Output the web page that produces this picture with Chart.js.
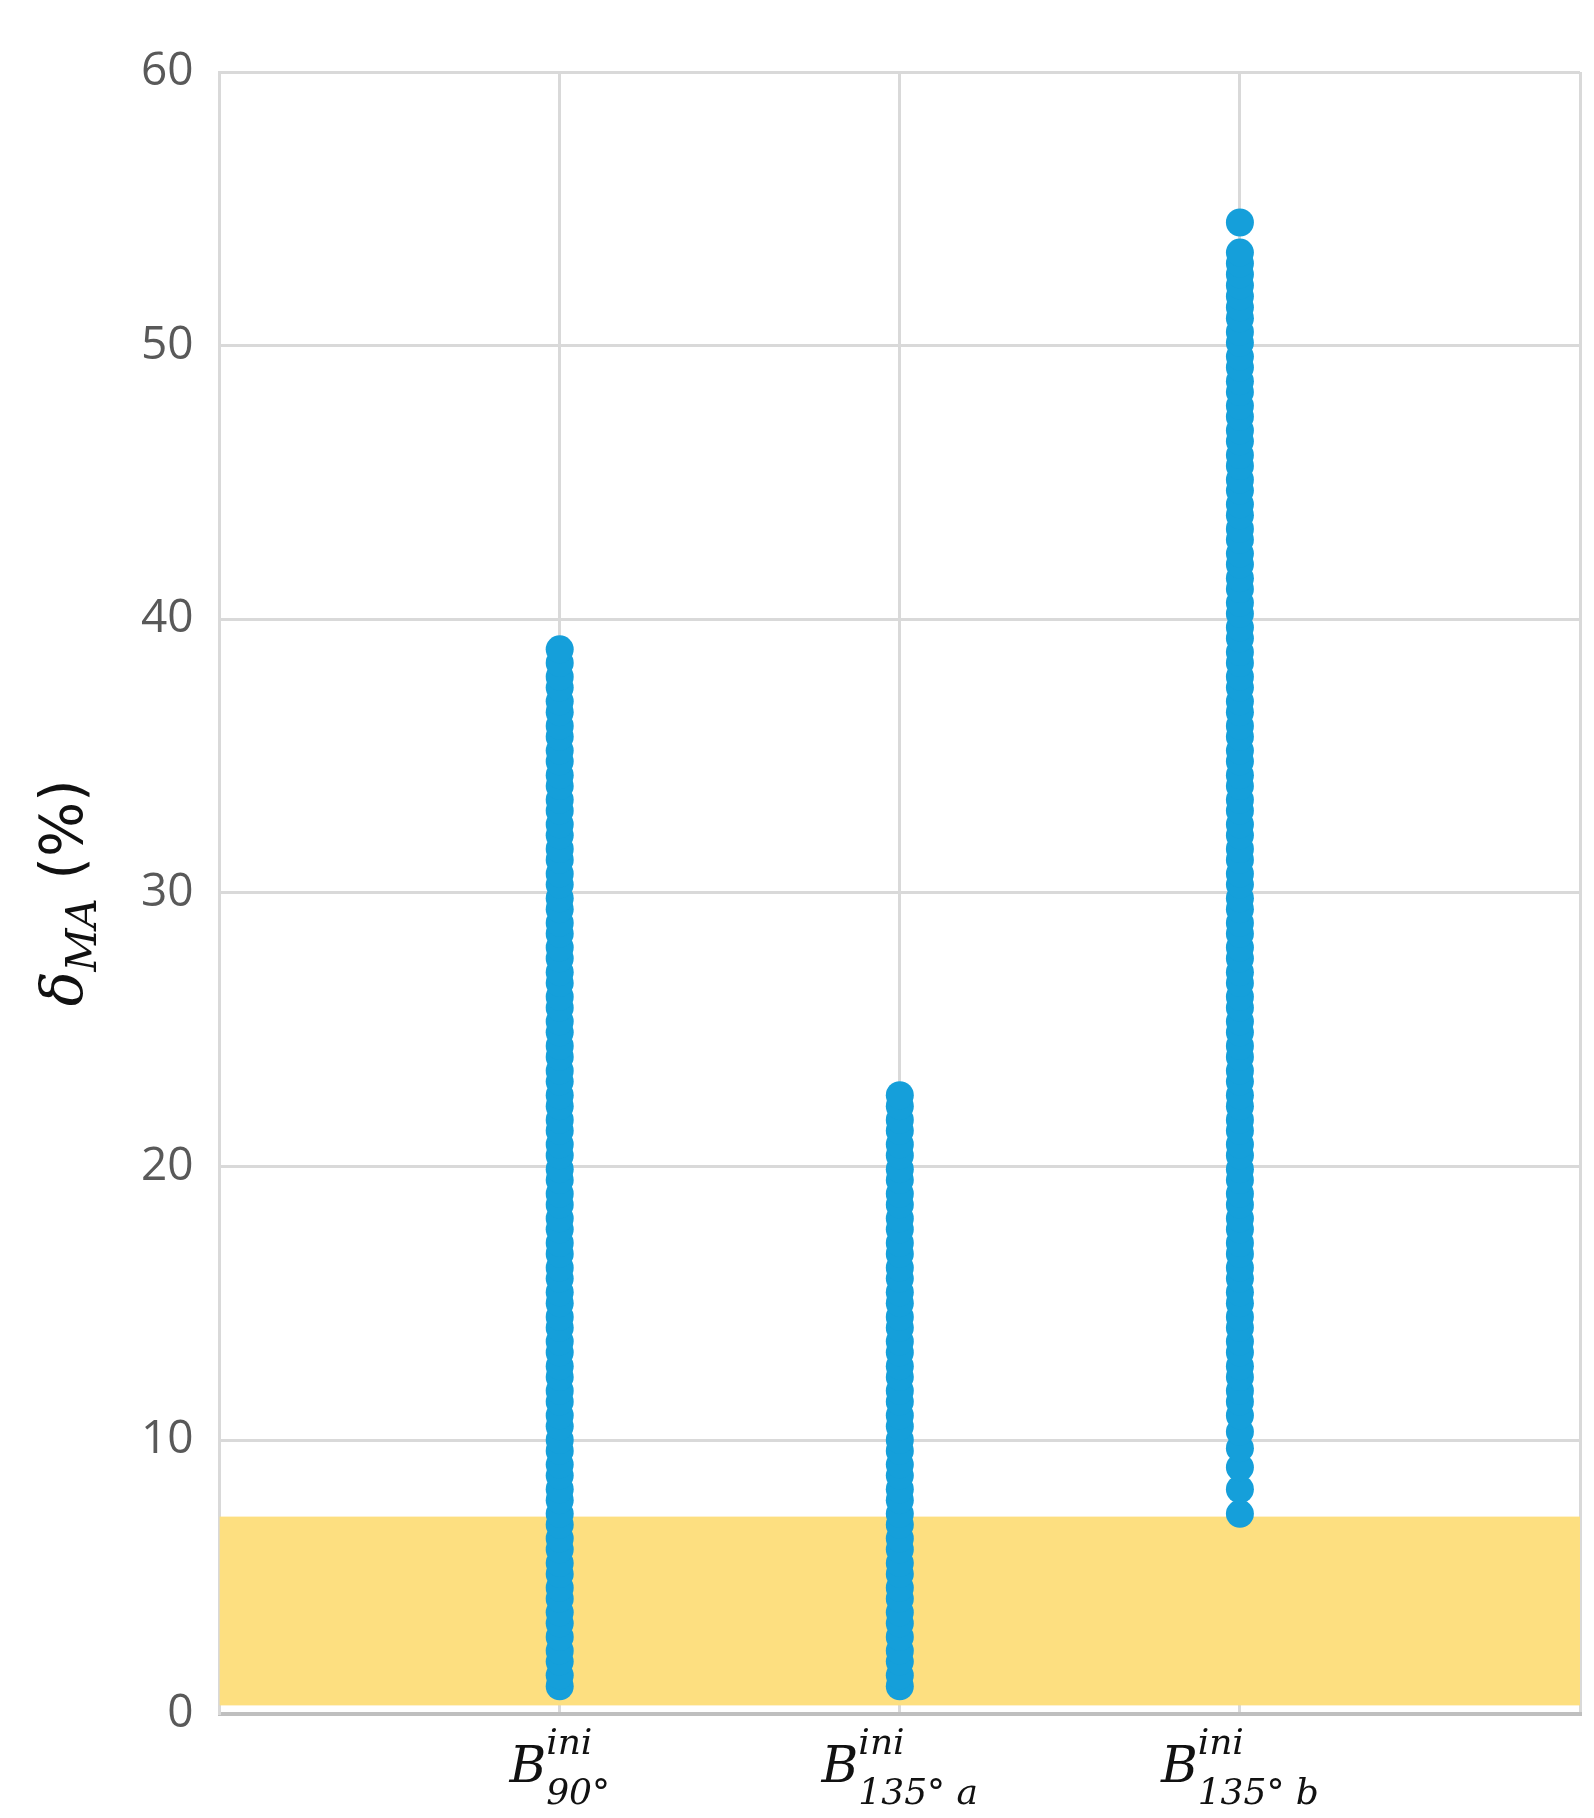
<!DOCTYPE html>
<html><head><meta charset="utf-8">
<script src="https://cdn.jsdelivr.net/npm/chart.js@4"></script>
<style>html,body{margin:0;padding:0;background:#fff}#w{width:1594px;height:1818px}</style>
</head><body><div id="w"><canvas id="c"></canvas></div>
<script>
const categories = [
  {x: 1, base: 'B', sup: 'ini', sub: '90°'},
  {x: 2, base: 'B', sup: 'ini', sub: '135° a'},
  {x: 3, base: 'B', sup: 'ini', sub: '135° b'}
];
const yTicks = [0, 10, 20, 30, 40, 50, 60];
const bandRange = [0.3, 7.2];
const series90 = [1.0,1.4,1.9,2.3,2.8,3.3,3.7,4.2,4.6,5.1,5.5,6.0,6.4,6.9,7.3,7.8,8.2,8.7,9.1,9.6,10.0,10.5,10.9,11.4,11.8,12.3,12.7,13.2,13.6,14.1,14.5,15.0,15.4,15.9,16.3,16.8,17.2,17.7,18.1,18.6,19.0,19.5,19.9,20.4,20.8,21.3,21.7,22.2,22.6,23.1,23.5,24.0,24.4,24.9,25.3,25.8,26.2,26.7,27.1,27.6,28.0,28.5,28.9,29.4,29.8,30.3,30.7,31.2,31.6,32.1,32.5,33.0,33.4,33.9,34.3,34.8,35.2,35.7,36.1,36.6,37.0,37.5,37.9,38.4,38.9];
const series135a = [1.0,1.4,1.9,2.3,2.8,3.3,3.7,4.2,4.6,5.1,5.5,6.0,6.4,6.9,7.3,7.8,8.2,8.7,9.1,9.6,10.0,10.5,10.9,11.4,11.8,12.3,12.7,13.2,13.6,14.1,14.5,15.0,15.4,15.9,16.3,16.8,17.2,17.7,18.1,18.6,19.0,19.5,19.9,20.4,20.8,21.3,21.7,22.2,22.6];
const series135b = [7.3,8.2,9.0,9.7,10.3,10.9,11.4,11.8,12.3,12.7,13.2,13.6,14.1,14.5,15.0,15.4,15.9,16.3,16.8,17.2,17.7,18.1,18.6,19.0,19.5,19.9,20.4,20.8,21.3,21.7,22.2,22.6,23.1,23.5,24.0,24.4,24.9,25.3,25.8,26.2,26.7,27.1,27.6,28.0,28.5,28.9,29.4,29.8,30.3,30.7,31.2,31.6,32.1,32.5,33.0,33.4,33.9,34.3,34.8,35.2,35.7,36.1,36.6,37.0,37.5,37.9,38.4,38.8,39.3,39.7,40.2,40.6,41.1,41.5,42.0,42.4,42.9,43.3,43.8,44.2,44.7,45.1,45.6,46.0,46.5,46.9,47.4,47.8,48.3,48.7,49.2,49.6,50.1,50.5,51.0,51.4,51.8,52.2,52.6,53.0,53.4,54.5];

const mk = (x, arr) => arr.map(v => ({x, y: v}));
const bandPlugin = {
  id: 'band',
  beforeDatasetsDraw(chart) {
    const {ctx, chartArea: a, scales: {y}} = chart;
    ctx.save();
    ctx.fillStyle = '#FDDF80';
    const t = y.getPixelForValue(bandRange[1]), b = y.getPixelForValue(bandRange[0]);
    ctx.fillRect(a.left, t, a.right - a.left, b - t);
    ctx.restore();
  }
};
const labelPlugin = {
  id: 'xlabels',
  afterDraw(chart) {
    const {ctx, chartArea: a, scales: {x, y}} = chart;
    ctx.save();
    ctx.fillStyle = '#111';
    ctx.textBaseline = 'alphabetic';
    categories.forEach(c => {
      const px = x.getPixelForValue(c.x);
      ctx.font = 'italic 50px "DejaVu Serif"';
      const bw = ctx.measureText(c.base).width;
      ctx.font = 'italic 36px "DejaVu Serif"';
      const sw = ctx.measureText(c.sub).width, uw = ctx.measureText(c.sup).width;
      const total = bw + Math.max(sw, uw);
      const x0 = px - total / 2, by = a.bottom + 68;
      ctx.font = 'italic 50px "DejaVu Serif"';
      ctx.fillText(c.base, x0, by);
      ctx.font = 'italic 36px "DejaVu Serif"';
      ctx.fillText(c.sup, x0 + bw, by - 28);
      ctx.fillText(c.sub, x0 + bw, by + 22);
    });
    // y axis title with subscript
    ctx.translate(82, (a.top + a.bottom) / 2);
    ctx.rotate(-Math.PI / 2);
    ctx.font = 'italic 58px "DejaVu Serif"';
    const d = 'δ', w1 = ctx.measureText(d).width;
    ctx.font = 'italic 42px "DejaVu Serif"';
    const w2 = ctx.measureText('MA').width;
    ctx.font = '58px "DejaVu Sans"';
    const w3 = ctx.measureText(' (%)').width;
    let sx = -(w1 + w2 + w3) / 2;
    ctx.font = 'italic 58px "DejaVu Serif"';
    ctx.fillText(d, sx, 0); sx += w1;
    ctx.font = 'italic 42px "DejaVu Serif"';
    ctx.fillText('MA', sx, 14); sx += w2;
    ctx.font = '58px "DejaVu Sans"';
    ctx.fillText(' (%)', sx, 0);
    ctx.restore();
  }
};
const pt = {backgroundColor: '#159FDA', borderColor: '#159FDA', pointRadius: 14, pointHoverRadius: 14, borderWidth: 0, showLine: false};
new Chart(document.getElementById('c'), {
  type: 'scatter',
  data: {datasets: [
    {...pt, data: mk(categories[0].x, series90)},
    {...pt, data: mk(categories[1].x, series135a)},
    {...pt, data: mk(categories[2].x, series135b)}
  ]},
  options: {
    responsive: true, maintainAspectRatio: false, animation: false,
    devicePixelRatio: 1,
    layout: {padding: {left: 115, right: 0, top: 72, bottom: 90}},
    plugins: {legend: {display: false}, tooltip: {enabled: false}},
    scales: {
      x: {type: 'linear', min: 0, max: 4,
        ticks: {stepSize: 1, callback: () => '', padding: 0},
        grid: {color: '#D9D9D9', lineWidth: 3, drawTicks: false},
        border: {display: true, color: '#BFBFBF', width: 4}},
      y: {min: 0, max: 60,
        afterBuildTicks: s => { s.ticks = yTicks.map(v => ({value: v})); },
        ticks: {color: '#595959', font: {size: 46, family: 'Open Sans'}, padding: 26},
        grid: {color: '#D9D9D9', lineWidth: 3, drawTicks: false},
        border: {display: true, color: '#D9D9D9', width: 3}}
    }
  },
  plugins: [bandPlugin, labelPlugin]
});
</script></body></html>
